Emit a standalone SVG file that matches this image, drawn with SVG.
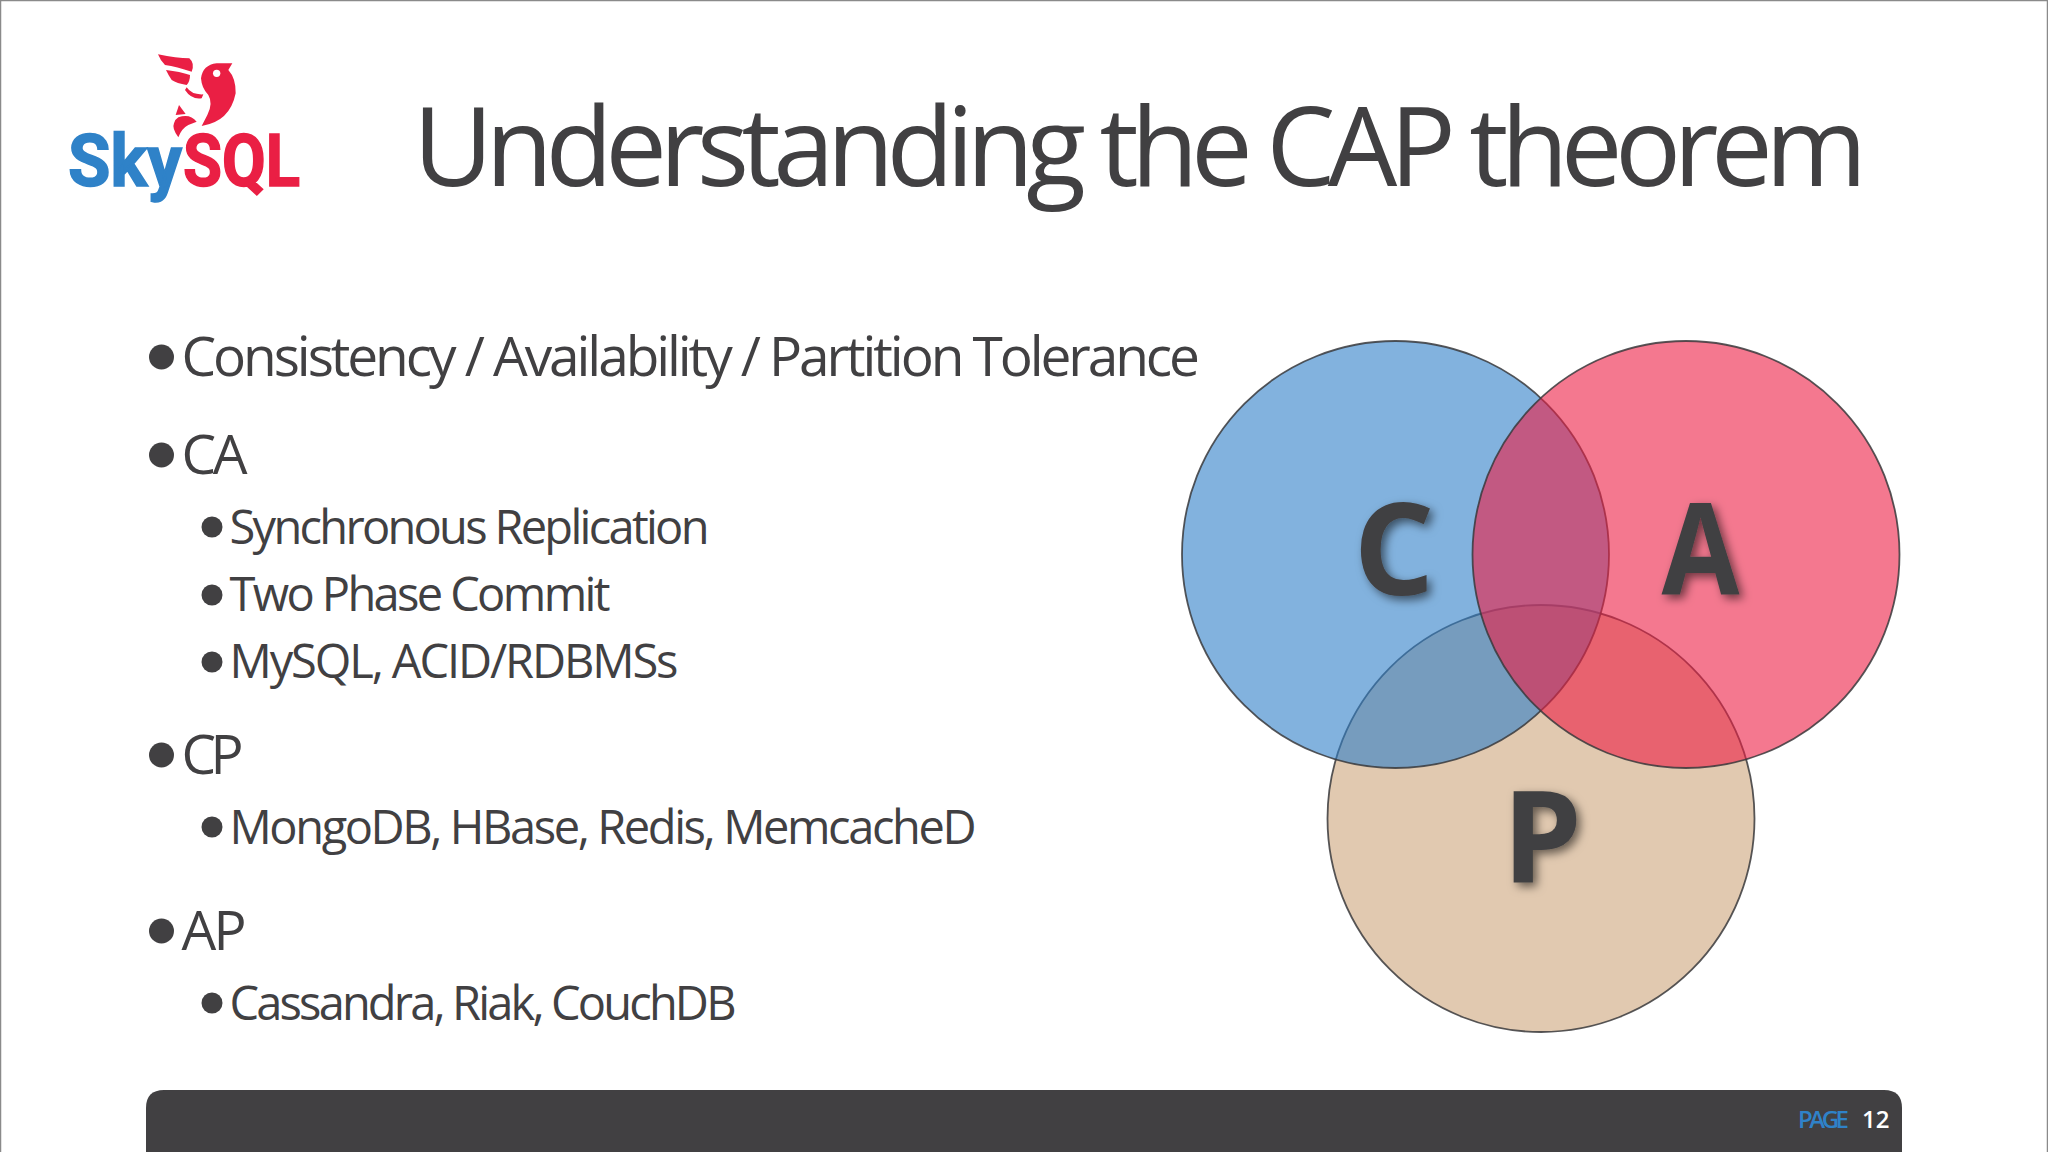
<svg xmlns="http://www.w3.org/2000/svg" width="2048" height="1152" viewBox="0 0 2048 1152">
<style>
text{font-family:"Open Sans","Noto Sans","Liberation Sans",sans-serif;fill:#414042}
.t1{font-size:55px}
.t2{font-size:47px}
.b{fill:#414042}
.c{fill-opacity:.6;stroke:#3a3a3c;stroke-opacity:.85;stroke-width:1.8}
.big{font-size:127px;font-weight:700;text-anchor:middle;filter:url(#sh)}
.logo{font-family:"Roboto","Liberation Sans",sans-serif;font-size:72px;font-weight:700;stroke-width:1.5}
</style>
<defs>
<filter id="sh" x="-30%" y="-30%" width="170%" height="170%"><feDropShadow dx="4" dy="4" stdDeviation="5" flood-color="#000" flood-opacity=".55"/></filter>
</defs>
<rect width="2048" height="1152" fill="#fff"/>
<path d="M.5 1152V.5H2047.5V1152" fill="none" stroke="#8a8a8a" stroke-width="1.5"/>
<g id="logo">
<g transform="scale(.33333)" fill="#ea1f44">
<path d="M697 190L650 190Q608 195 603 235Q605 265 625 285Q640 310 622 345L605 378Q690 365 707 280Q708 235 685 210Z"/>
<circle cx="650" cy="220" r="11" fill="#fff"/>
<path d="M474 163Q530 175 568 175Q585 190 575 215Q530 200 495 195Q480 180 474 163Z"/>
<path d="M498 210Q540 215 570 225Q570 245 560 255Q530 250 515 240Q505 225 498 210Z"/>
<path d="M560 262Q575 285 610 283L605 295Q575 300 555 270Z"/>
<path d="M537 315L557 342L527 345Z"/>
<path d="M535 352Q570 340 590 365L565 375Q545 385 535 412Q515 385 522 370Q525 358 535 352Z"/>
</g>
<text class="logo" x="68" y="186" textLength="114" lengthAdjust="spacingAndGlyphs" style="fill:#2f82c8;stroke:#2f82c8">Sky</text>
<text class="logo" x="183" y="186" textLength="117" lengthAdjust="spacingAndGlyphs" style="fill:#ea1f44;stroke:#ea1f44">SQL</text>
</g>
<text id="title" x="413" y="186" font-size="110" textLength="1454" lengthAdjust="spacing">Understanding the CAP theorem</text>
<g id="bullets">
<circle class="b" cx="161.5" cy="357" r="12.5"/><text class="t1" x="181.5" y="376" textLength="1018.5" lengthAdjust="spacing">Consistency / Availability / Partition Tolerance</text>
<circle class="b" cx="161.5" cy="455" r="12.5"/><text class="t1" x="181.5" y="474" textLength="66" lengthAdjust="spacing">CA</text>
<circle class="b" cx="212" cy="527" r="10.5"/><text class="t2" x="229.5" y="544" textLength="480" lengthAdjust="spacing">Synchronous Replication</text>
<circle class="b" cx="212" cy="595" r="10.5"/><text class="t2" x="229.5" y="611" textLength="381" lengthAdjust="spacing">Two Phase Commit</text>
<circle class="b" cx="212" cy="662" r="10.5"/><text class="t2" x="229.5" y="678" textLength="449" lengthAdjust="spacing">MySQL, ACID/RDBMSs</text>
<circle class="b" cx="161.5" cy="755" r="12.5"/><text class="t1" x="181.5" y="774" textLength="62" lengthAdjust="spacing">CP</text>
<circle class="b" cx="212" cy="827" r="10.5"/><text class="t2" x="229.5" y="844" textLength="747" lengthAdjust="spacing">MongoDB, HBase, Redis, MemcacheD</text>
<circle class="b" cx="161.5" cy="931" r="12.5"/><text class="t1" x="181.5" y="950" textLength="65" lengthAdjust="spacing">AP</text>
<circle class="b" cx="212" cy="1003" r="10.5"/><text class="t2" x="229.5" y="1020" textLength="507" lengthAdjust="spacing">Cassandra, Riak, CouchDB</text>
</g>
<g id="venn">
<g id="circle-p"><circle class="c" cx="1541" cy="818.5" r="213.5" fill="#cda57b"/></g>
<g id="circle-c"><circle class="c" cx="1395.5" cy="554.5" r="213.5" fill="#2f7fc8"/></g>
<g id="circle-a"><circle class="c" cx="1686" cy="554.5" r="213.5" fill="#ed1e44"/></g>
<text class="big" x="1394" y="595">C</text>
<text class="big" x="1700.5" y="595" textLength="78" lengthAdjust="spacingAndGlyphs">A</text>
<text class="big" x="1542" y="882">P</text>
</g>
<g id="footer">
<path d="M146 1152V1108Q146 1090 164 1090H1884Q1902 1090 1902 1108V1152Z" fill="#414042"/>
<text x="1798" y="1128" font-size="24" font-weight="600" textLength="51" lengthAdjust="spacing" style="fill:#2f82c8">PAGE</text>
<text x="1862" y="1128" font-size="24" font-weight="600" style="fill:#fff">12</text>
</g>
</svg>
